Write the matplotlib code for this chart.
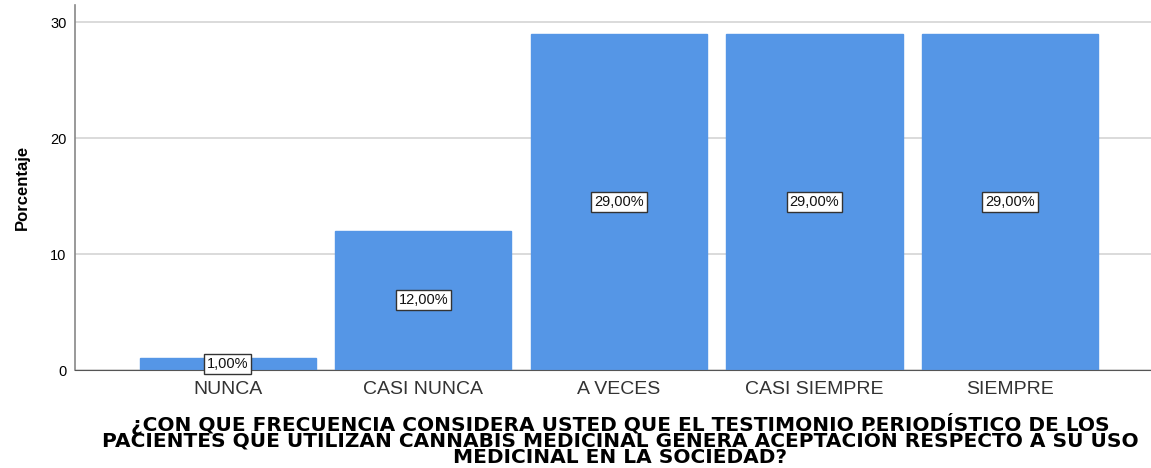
import matplotlib
matplotlib.use("Agg")
import matplotlib.pyplot as plt

# -----------------------------------------
# data
# -----------------------------------------
categories = ["NUNCA", "CASI NUNCA", "A VECES", "CASI SIEMPRE", "SIEMPRE"]
percentages = [1.0, 12.0, 29.0, 29.0, 29.0]
yticks = [0, 10, 20, 30]
x_title = ("¿CON QUE FRECUENCIA CONSIDERA USTED QUE EL TESTIMONIO PERIODÍSTICO DE LOS\n"
           "PACIENTES QUE UTILIZAN CANNABIS MEDICINAL GENERA ACEPTACIÓN RESPECTO A SU USO\n"
           "MEDICINAL EN LA SOCIEDAD?")

plt.rcParams['font.family'] = ['Liberation Sans', 'DejaVu Sans']

fig = plt.figure(figsize=(11.51, 4.68), dpi=100)
ax = fig.add_axes([0.0652, 0.2094, 0.9348, 0.7799])

xs = list(range(len(categories)))
ax.bar(xs, percentages, width=0.9, color='#5596e6', edgecolor='#5596e6', zorder=2)

for x, v in zip(xs, percentages):
    ax.text(x, v / 2, f"{v:.2f}%".replace('.', ','), ha='center', va='center',
            fontsize=10.5, zorder=3, color='#111111',
            bbox=dict(boxstyle='square,pad=0.2', facecolor='white',
                      edgecolor='#333333', linewidth=1.0))

ax.set_xlim(-0.78, 4.72)
ax.set_ylim(0, 31.47)
ax.set_yticks(yticks)
ax.set_xticks(xs)
ax.set_xticklabels(categories, fontsize=14, color='#333333')
ax.tick_params(axis='y', labelsize=10.5, length=0, pad=6)
ax.tick_params(axis='x', length=0, pad=8)

ax.grid(axis='y', color='#d4d4d4', linewidth=1.2, zorder=0)
for side in ['top', 'right']:
    ax.spines[side].set_visible(False)
ax.spines['left'].set_color('#888888')
ax.spines['bottom'].set_color('#555555')
ax.spines['left'].set_linewidth(1.2)

fig.text(22 / 1151, 1 - 187 / 468, "Porcentaje", rotation=90, ha='center', va='center',
         fontsize=12, fontweight='bold')
fig.text(620 / 1151, 1 - 440 / 468, x_title, ha='center', va='center',
         fontsize=14.5, fontweight='bold', family='DejaVu Sans', linespacing=0.78)

fig.savefig("out.png", dpi=100)
